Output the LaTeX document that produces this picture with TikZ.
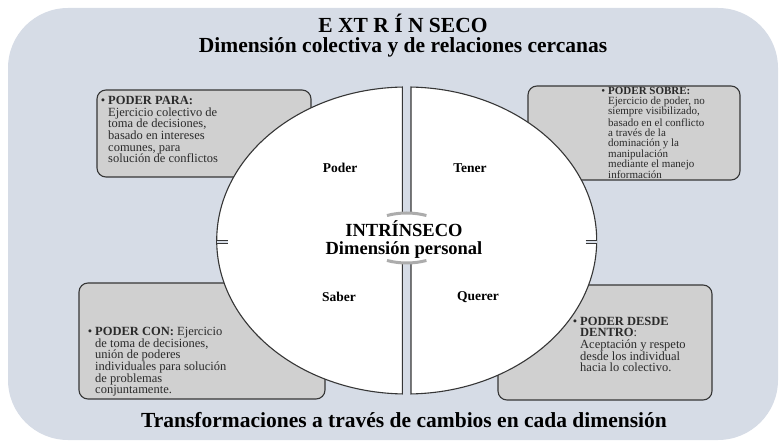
\documentclass[tikz,border=0pt]{standalone}
\usepackage{fontspec}
\setmainfont{Liberation Serif}
\usepackage{tikz}
\usetikzlibrary{positioning}

\definecolor{fondo}{HTML}{D6DCE6}
\definecolor{gris}{HTML}{D0D0D0}
\definecolor{borde}{HTML}{363636}
\definecolor{letra}{HTML}{2A2A2A}

\begin{document}
\begin{tikzpicture}[x=1pt,y=1pt,
  recuadro/.style={draw=borde,fill=gris,line width=1.1pt,rounded corners=9pt},
  mitad/.style={draw=borde,fill=white,line width=1.1pt},
  titulo/.style={font=\bfseries\fontsize{21.5}{23}\selectfont},
  cuadrante/.style={font=\bfseries\fontsize{13.5}{15}\selectfont},
  centro/.style={font=\bfseries\fontsize{18.5}{20}\selectfont},
  texto/.style={anchor=north west,inner sep=0pt,align=left,text=letra,
    font=\fontsize{12.5}{11.7}\selectfont}]
\useasboundingbox (0,0) rectangle (784,447);
\fill[fondo,rounded corners=60pt] (8,7) rectangle (778,439);

% recuadros de las cuatro formas de poder
\draw[recuadro] (97,270) rectangle (311,357);
\draw[recuadro] (528,267) rectangle (740,361);
\draw[recuadro] (79,48) rectangle (325,164);
\draw[recuadro] (498,47) rectangle (712,162);

% circulo partido en dos mitades
\draw[mitad] (406.7,206.5) ++(91.3:190 and 153.5)
  arc[start angle=91.3,end angle=268.7,x radius=190,y radius=153.5] -- cycle;
\draw[mitad] (406.7,206.5) ++(-88.7:190 and 153.5)
  arc[start angle=-88.7,end angle=88.7,x radius=190,y radius=153.5] -- cycle;

% marcas horizontales
\fill[fondo] (216.5,204) rectangle (228,206.5);
\draw[borde,line width=0.8pt] (217,204) -- (228,204) (217,206.5) -- (228,206.5);
\fill[fondo] (585.5,204) rectangle (597,206.5);
\draw[borde,line width=0.8pt] (585.5,204) -- (596.5,204) (585.5,206.5) -- (596.5,206.5);

% centro
\fill[white] (406.7,209) ellipse[x radius=45,y radius=24];
\draw[gray!65,line width=3pt] (406.7,209) ++(64:45 and 25)
  arc[start angle=64,end angle=116,x radius=45,y radius=25];
\draw[gray!65,line width=3pt] (406.7,209) ++(244:45 and 25)
  arc[start angle=244,end angle=296,x radius=45,y radius=25];

% textos
\node[titulo] (extr) at (403,424) {E XT R Í N SECO};
\node[titulo,below of=extr,node distance=24pt] (colect) {Dimensión colectiva y de relaciones cercanas};
\node[titulo] (transf) at (404,27) {Transformaciones a través de cambios en cada dimensión};

\node[centro] (intr) at (404,218.5) {INTRÍNSECO};
\node[centro,below of=intr,node distance=21.5pt] (pers) {Dimensión personal};

\node[cuadrante] (poder) at (340,279) {Poder};
\node[cuadrante] (tener) at (470,279) {Tener};
\node[cuadrante] (saber) at (339,150) {Saber};
\node[cuadrante] (querer) at (478,150) {Querer};

\node[texto] (para) at (108,351) {\llap{\textbullet\hspace{3pt}}\textbf{PODER PARA:}\\
  Ejercicio colectivo de\\ toma  de decisiones,\\ basado en intereses\\
  comunes, para\\ solución de conflictos};
\node[texto,font=\fontsize{11}{10}\selectfont] (sobre) at (608,359.5) {\llap{\textbullet\hspace{3pt}}\textbf{PODER SOBRE:}\\
  Ejercicio de poder, no\\ siempre visibilizado,\\ basado en el conflicto\\
  a través de la\\ dominación y la\\ manipulación\\ mediante el manejo\\ información};
\node[texto] (con) at (95,120) {\llap{\textbullet\hspace{3pt}}\textbf{PODER CON:} Ejercicio\\
  de toma de decisiones,\\ unión  de poderes\\ individuales para solución\\
  de problemas\\ conjuntamente.};
\node[texto,font=\fontsize{12.5}{11.3}\selectfont] (dentro) at (580,130) {\llap{\textbullet\hspace{3pt}}\textbf{PODER DESDE}\\
  \textbf{DENTRO}:\\ Aceptación y respeto\\ desde los individual\\ hacia lo colectivo.};
\end{tikzpicture}
\end{document}
